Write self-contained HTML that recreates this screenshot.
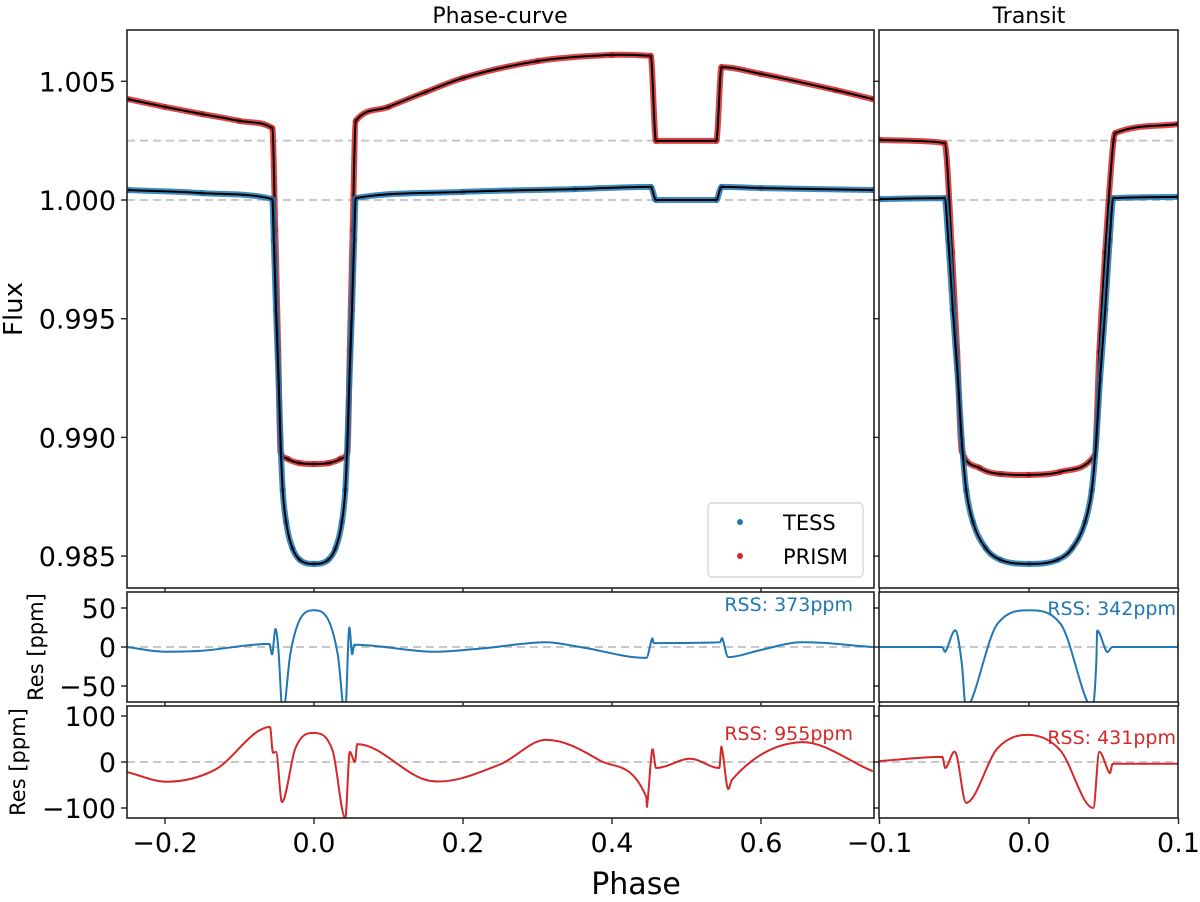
<!DOCTYPE html>
<html><head><meta charset="utf-8"><style>
body{margin:0;background:#fff;}
svg text{font-family:"DejaVu Sans","Liberation Sans",sans-serif;fill:#000;}
</style></head><body>
<svg id="fig" width="1200" height="897" viewBox="0 0 1200 897" xmlns="http://www.w3.org/2000/svg">
<defs>
<clipPath id="cL0"><rect x="127" y="30" width="747" height="558"/></clipPath>
<clipPath id="cR0"><rect x="879" y="30" width="299" height="558"/></clipPath>
<clipPath id="cL1"><rect x="127" y="592" width="747" height="110"/></clipPath>
<clipPath id="cR1"><rect x="879" y="592" width="299" height="110"/></clipPath>
<clipPath id="cL2"><rect x="127" y="706" width="747" height="112"/></clipPath>
<clipPath id="cR2"><rect x="879" y="706" width="299" height="112"/></clipPath>
</defs>
<g id="layer"></g>
</svg>
<script>
// ---- data (phase, flux) ----
const pcTessPhase=[-0.25,-0.15,-0.056,-0.054,-0.051,-0.0475,-0.045,-0.042,-0.0375,-0.029,-0.019,0,0.019,0.029,0.0375,0.042,0.045,0.0475,0.051,0.054,0.056,0.2,0.35,0.452,0.459,0.540,0.547,0.6,0.75];
const pcTessFlux=[1.00042,1.00029,1.00004,0.99832,0.99537,0.99242,0.98989,0.98778,0.98644,0.98534,0.98484,0.98467,0.98484,0.98534,0.98644,0.98778,0.98989,0.99242,0.99537,0.99832,1.00008,1.00034,1.00046,1.00055,1.0000,1.0000,1.00055,1.00050,1.00042];
const pcPrismPhase=[-0.25,-0.2,-0.15,-0.1,-0.056,-0.052,-0.048,-0.045,-0.035,-0.02,0,0.02,0.035,0.045,0.048,0.052,0.056,0.1,0.15,0.2,0.3,0.4,0.452,0.459,0.540,0.547,0.6,0.7,0.75];
const pcPrismFlux=[1.00425,1.00392,1.00362,1.00333,1.00303,0.99874,0.99368,0.98938,0.98909,0.98892,0.98888,0.98892,0.98909,0.98938,0.99368,0.99874,1.00333,1.00392,1.00455,1.00514,1.00585,1.00611,1.00607,1.00249,1.00249,1.0056,1.00531,1.00463,1.00425];
const trTessPhase=[-0.1,-0.0565,-0.054,-0.051,-0.0475,-0.045,-0.042,-0.0375,-0.029,-0.019,0,0.019,0.029,0.0375,0.042,0.045,0.0475,0.051,0.054,0.0565,0.1];
const trTessFlux=[1.00004,1.00008,0.99832,0.99537,0.99242,0.98989,0.98778,0.98644,0.98534,0.98484,0.98467,0.98484,0.98534,0.98644,0.98778,0.98989,0.99242,0.99537,0.99832,1.00008,1.00013];
const trPrismPhase=[-0.1,-0.0565,-0.0515,-0.048,-0.045,-0.033,-0.019,0,0.021,0.044,0.047,0.051,0.0565,0.0577,0.1];
const trPrismFlux=[1.00253,1.0024,0.99780,0.99360,0.98943,0.98871,0.98846,0.98842,0.98855,0.98926,0.99360,0.99780,1.00250,1.00282,1.0032];
// ---- residuals (phase, ppm) ----
const resPcTessPhase=[-0.251,-0.2,-0.153,-0.06,-0.056,-0.052,-0.048,-0.042,-0.032,-0.019,0,0.019,0.032,0.042,0.047,0.051,0.054,0.156,0.223,0.31,0.357,0.446,0.454,0.456,0.545,0.548,0.556,0.599,0.652,0.75];
const resPcTessPpm=[0,-6,-5,4,-9,23,0,-85,-10,35,47,35,-10,-85,23,-9,3,-6,-2,6,0,-14,11,5,6,11,-13,-4,6,0];
const resPcPrismPhase=[-0.251,-0.196,-0.133,-0.059,-0.055,-0.051,-0.043,-0.025,0,0.025,0.042,0.048,0.055,0.058,0.156,0.25,0.31,0.383,0.446,0.447,0.454,0.459,0.505,0.544,0.547,0.555,0.561,0.652,0.75];
const resPcPrismPpm=[-22,-43,-17,76,20,22,-87,30,63,25,-122,22,0,39,-41,-5,48,4,-76,-97,26,-13,7,-13,33,-56,-39,43,-20];
const resTrTessPhase=[-0.1,-0.058,-0.056,-0.049,-0.045,-0.042,-0.021,0,0.021,0.042,0.045,0.0456,0.052,0.0557,0.1];
const resTrTessPpm=[0,0,-6,21,-20,-80,30,47,30,-80,-20,21,-6,0,0];
const resTrPrismPhase=[-0.1,-0.058,-0.056,-0.049,-0.042,-0.021,0,0.021,0.043,0.047,0.054,0.056,0.1];
const resTrPrismPpm=[2,11,-13,20,-89,30,59,25,-100,22,-24,-4,-4];
const yTicksTop=[1.005,1.000,0.995,0.990,0.985];
const yTicksRes1=[50,0,-50];
const yTicksRes2=[100,0,-100];
const xTicksL=[-0.2,0.0,0.2,0.4,0.6];
const xTicksR=[-0.1,0.0,0.1];

const NS='http://www.w3.org/2000/svg';
const layer=document.getElementById('layer');
function mk(tag,attrs,parent){const e=document.createElementNS(NS,tag);for(const k in attrs)e.setAttribute(k,attrs[k]);(parent||layer).appendChild(e);return e;}
const xL=p=>314+745*p, xR=p=>1029+1495*p;
const yTop=f=>200+(1-f)*23740;
const yR1=v=>647-0.78*v;
const yR2=v=>762-0.46*v;
const BLUE='#1f77b4', RED='#d62728';

// smooth cubic path: monotone where slopes differ strongly, rounded at genuine extrema
function pathD(xs,ys,fx,fy){
  const X=xs.map(fx),Y=ys.map(fy),n=X.length;
  const d=[],m=[];
  for(let i=0;i<n-1;i++)d.push((Y[i+1]-Y[i])/((X[i+1]-X[i])||1e-6));
  m[0]=d[0];m[n-1]=d[n-2];
  for(let i=1;i<n-1;i++){
    const a=d[i-1],b=d[i];
    if(a*b>0){m[i]=(a+b)/2;}
    else{
      const r=Math.max(Math.abs(a),Math.abs(b))/Math.max(1e-6,Math.min(Math.abs(a),Math.abs(b)));
      m[i]=(r<4)?(Y[i+1]-Y[i-1])/((X[i+1]-X[i-1])||1e-6):0;
    }
  }
  for(let i=0;i<n-1;i++){
    if(Math.abs(d[i])<1e-9){continue;}
    if(m[i]*d[i]>0&&m[i]/d[i]>3)m[i]=3*d[i];
    if(m[i+1]*d[i]>0&&m[i+1]/d[i]>3)m[i+1]=3*d[i];
  }
  let p='M'+X[0].toFixed(1)+' '+Y[0].toFixed(1);
  for(let i=0;i<n-1;i++){const h=(X[i+1]-X[i])/3;
    p+=' C'+(X[i]+h).toFixed(1)+' '+(Y[i]+m[i]*h).toFixed(1)+' '+(X[i+1]-h).toFixed(1)+' '+(Y[i+1]-m[i+1]*h).toFixed(1)+' '+X[i+1].toFixed(1)+' '+Y[i+1].toFixed(1);}
  return p;
}
function series(name,xs,ys,fx,fy,clip,color,model){
  const g=mk('g',{'clip-path':'url(#'+clip+')'});
  
  
  if(model){
    const band=mk('path',{d:pathD(xs,ys,fx,fy),fill:'none',stroke:color,'stroke-width':6,'stroke-linejoin':'round','stroke-opacity':0.85},g);
    
    
    xs.forEach((p,i)=>{const c=mk('circle',{cx:fx(p),cy:fy(ys[i]),r:3,fill:color},g);
      
      });
    const m=mk('path',{d:pathD(xs,ys,fx,fy),fill:'none',stroke:'#000','stroke-width':2,'stroke-linejoin':'round'},g);
    
    
  } else {
    const l=mk('path',{d:pathD(xs,ys,fx,fy),fill:'none',stroke:color,'stroke-width':2,'stroke-linejoin':'round'},g);
    
    
  }
}
function hline(y,x1,x2,name){const l=mk('line',{x1:x1,x2:x2,y1:y,y2:y,stroke:'#c8c8c8','stroke-width':2,'stroke-dasharray':'8,5'});
  
  }
function frame(x,y,w,h,name){const r=mk('rect',{x:x,y:y,width:w,height:h,fill:'none',stroke:'#222','stroke-width':1.6});
  
  }
function txt(s,x,y,size,anchor,name,color,rot){const t=mk('text',{x:x,y:y,'font-size':size,'text-anchor':anchor||'middle'});
  if(color)t.setAttribute('style','fill:'+color);
  if(rot)t.setAttribute('transform','rotate(-90 '+x+' '+y+')');
  t.textContent=s;
  
  return t;}
function tick(x1,y1,x2,y2){const l=mk('line',{x1:x1,y1:y1,x2:x2,y2:y2,stroke:'#222','stroke-width':1.4});
  
  }

hline(yTop(1.0025),127,874,'ref-line-prism');hline(yTop(1.0),127,874,'ref-line-tess');
hline(yTop(1.0025),879,1178,'ref-line-prism-transit');hline(yTop(1.0),879,1178,'ref-line-tess-transit');
hline(yR1(0),127,874,'zero-line-res1');hline(yR1(0),879,1178,'zero-line-res1-transit');
hline(yR2(0),127,874,'zero-line-res2');hline(yR2(0),879,1178,'zero-line-res2-transit');

series('prism-phase-curve',pcPrismPhase,pcPrismFlux,xL,yTop,'cL0',RED,true);
series('tess-phase-curve',pcTessPhase,pcTessFlux,xL,yTop,'cL0',BLUE,true);
series('prism-transit',trPrismPhase,trPrismFlux,xR,yTop,'cR0',RED,true);
series('tess-transit',trTessPhase,trTessFlux,xR,yTop,'cR0',BLUE,true);
series('tess-res-phase',resPcTessPhase,resPcTessPpm,xL,yR1,'cL1',BLUE,false);
series('tess-res-transit',resTrTessPhase,resTrTessPpm,xR,yR1,'cR1',BLUE,false);
series('prism-res-phase',resPcPrismPhase,resPcPrismPpm,xL,yR2,'cL2',RED,false);
series('prism-res-transit',resTrPrismPhase,resTrPrismPpm,xR,yR2,'cR2',RED,false);

frame(127,30,747,558,'phase-curve-axes');frame(879,30,299,558,'transit-axes');
frame(127,592,747,110,'tess-res-axes');frame(879,592,299,110,'tess-res-transit-axes');
frame(127,706,747,112,'prism-res-axes');frame(879,706,299,112,'prism-res-transit-axes');

const TS=27;
const fmt=v=>(v<0?'\u2212':'')+Math.abs(v).toFixed(3);
yTicksTop.forEach(v=>{const y=yTop(v);tick(121,y,127,y);tick(873,y,879,y);txt(fmt(v),116,y+10,TS,'end','y-tick-label');});
yTicksRes1.forEach(v=>{const y=yR1(v);tick(121,y,127,y);tick(873,y,879,y);txt((v<0?'\u2212':'')+Math.abs(v),116,y+10,TS,'end','res1-tick-label');});
yTicksRes2.forEach(v=>{const y=yR2(v);tick(121,y,127,y);tick(873,y,879,y);txt((v<0?'\u2212':'')+Math.abs(v),116,y+10,TS,'end','res2-tick-label');});
const fx1=v=>(v<0?'\u2212':'')+Math.abs(v).toFixed(1);
xTicksL.forEach(v=>{const x=xL(v);tick(x,818,x,824);tick(x,588,x,592);tick(x,702,x,706);txt(fx1(v),x,852,TS,'middle','x-tick-label');});
xTicksR.forEach(v=>{const x=xR(v);tick(x,818,x,824);tick(x,588,x,592);tick(x,702,x,706);txt(fx1(v),x,852,TS,'middle','x-tick-label-transit');});

txt('Phase-curve',500,23,22,'middle','phase-curve-title');
txt('Transit',1029,23,22,'middle','transit-title');
txt('Flux',22,309,26,'middle','y-axis-title-flux',null,true);
txt('Res [ppm]',43,647,21,'middle','y-axis-title-res1',null,true);
txt('Res [ppm]',25,762,21,'middle','y-axis-title-res2',null,true);
txt('Phase',636,894,30,'middle','x-axis-title');
txt('RSS: 373ppm',853,611,19,'end','rss-tess-phase',BLUE);
txt('RSS: 342ppm',1176,615,19,'end','rss-tess-transit',BLUE);
txt('RSS: 955ppm',853,740,19,'end','rss-prism-phase',RED);
txt('RSS: 431ppm',1176,744,19,'end','rss-prism-transit',RED);

const lg=mk('g',{});


const lr=mk('rect',{x:708,y:503,width:155,height:74,rx:4,fill:'#fff','fill-opacity':0.85,stroke:'#d0d0d0','stroke-width':1.2},lg);


const e1=mk('circle',{cx:740,cy:522,r:3,fill:BLUE},lg);


const e2=mk('circle',{cx:740,cy:556,r:3,fill:RED},lg);


lg.appendChild(txt('TESS',783,530,21,'start','legend-entry-tess'));
lg.appendChild(txt('PRISM',783,564,21,'start','legend-entry-prism'));
</script>
</body></html>
